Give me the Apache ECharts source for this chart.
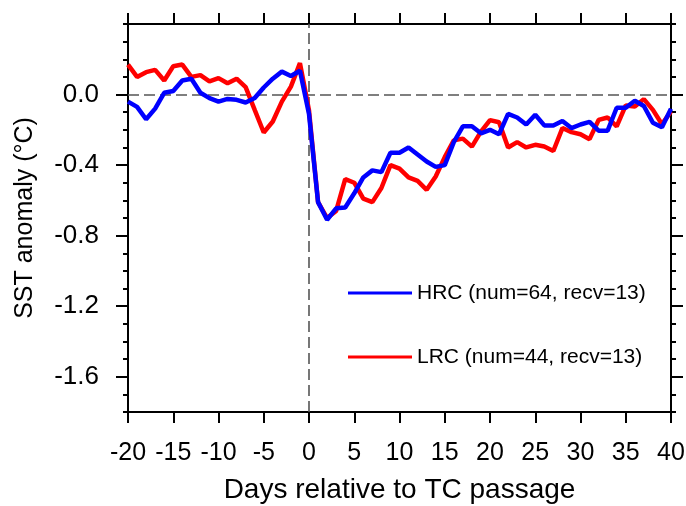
<!DOCTYPE html>
<html>
<head>
<meta charset="utf-8">
<script src="https://cdn.jsdelivr.net/npm/echarts@6/dist/echarts.min.js"></script>
<style>
  html, body { margin: 0; padding: 0; background: #fff; }
  #chart { width: 686px; height: 506px; }
</style>
</head>
<body>
<div id="chart"></div>
<script>
// days relative to TC passage
const days = [-20, -19, -18, -17, -16, -15, -14, -13, -12, -11,
  -10, -9, -8, -7, -6, -5, -4, -3, -2, -1,
  0, 1, 2, 3, 4, 5, 6, 7, 8, 9,
  10, 11, 12, 13, 14, 15, 16, 17, 18, 19,
  20, 21, 22, 23, 24, 25, 26, 27, 28, 29,
  30, 31, 32, 33, 34, 35, 36, 37, 38, 39, 40]

// SST anomaly, high rainfall cases (blue)
const hrc = [-0.04, -0.07, -0.14, -0.08, 0.01, 0.02, 0.08, 0.09, 0.01, -0.02,
  -0.04, -0.025, -0.03, -0.045, -0.02, 0.04, 0.09, 0.13, 0.105, 0.135,
  -0.11, -0.61, -0.71, -0.645, -0.64, -0.56, -0.47, -0.43, -0.44, -0.33,
  -0.33, -0.30, -0.34, -0.38, -0.41, -0.40, -0.27, -0.18, -0.18, -0.22,
  -0.20, -0.225, -0.11, -0.13, -0.17, -0.115, -0.175, -0.175, -0.15, -0.19,
  -0.17, -0.155, -0.205, -0.205, -0.075, -0.075, -0.035, -0.065, -0.16, -0.185, -0.08]

// SST anomaly, low rainfall cases (red)
const lrc = [0.17, 0.10, 0.127, 0.14, 0.08, 0.16, 0.17, 0.10, 0.11, 0.075,
  0.093, 0.064, 0.09, 0.042, -0.087, -0.215, -0.153, -0.04, 0.045, 0.178,
  -0.09, -0.61, -0.70, -0.66, -0.48, -0.50, -0.59, -0.61, -0.53, -0.40,
  -0.42, -0.47, -0.49, -0.54, -0.465, -0.355, -0.26, -0.25, -0.295, -0.21,
  -0.145, -0.157, -0.30, -0.27, -0.30, -0.285, -0.295, -0.32, -0.19, -0.213,
  -0.225, -0.253, -0.144, -0.13, -0.181, -0.062, -0.068, -0.026, -0.087, -0.168, -0.096]

const seriesNames = ['HRC (num=64, recv=13)', 'LRC (num=44, recv=13)']
const yMajorTicks = [-1.6, -1.2, -0.8, -0.4, 0.0]

const font = 'Liberation Sans, Helvetica, Arial, sans-serif'
const black = '#000'

function ticks(length, extra) {
  return Object.assign({ show: true, inside: false, length: length, lineStyle: { color: black, width: 2 } }, extra)
}

function frameAxis(extra) {
  return Object.assign({
    type: 'value',
    splitLine: { show: false },
    axisLine: { show: true, onZero: false, lineStyle: { color: black, width: 2 } },
    axisTick: ticks(5),
    axisLabel: { show: false }
  }, extra)
}

const xRange = { min: -20, max: 40, interval: 5 }
const yRange = { min: -1.8, max: 0.4 }
const hiddenLine = { show: false, onZero: false }

const chart = echarts.init(document.getElementById('chart'), null, { renderer: 'canvas' })

chart.setOption({
  animation: false,
  backgroundColor: '#fff',
  textStyle: { fontFamily: font },
  grid: { left: 128, right: 15, top: 24, bottom: 94, containLabel: false, outerBoundsMode: 'none' },
  legend: {
    data: seriesNames,
    orient: 'vertical',
    left: 348,
    top: 281,
    padding: 0,
    icon: 'rect',
    itemWidth: 64,
    itemHeight: 3,
    itemGap: 40,
    selectedMode: false,
    textStyle: { fontSize: 21, color: black, fontFamily: font, lineHeight: 24 }
  },
  xAxis: [
    frameAxis(Object.assign({
      position: 'bottom',
      axisTick: ticks(11),
      axisLabel: {
        show: true, margin: 29, fontSize: 25, color: black, fontFamily: font,
        showMinLabel: true, showMaxLabel: true
      },
      name: 'Days relative to TC passage',
      nameLocation: 'middle',
      nameGap: 64,
      nameTextStyle: { fontSize: 28, color: black, fontFamily: font }
    }, xRange)),
    frameAxis(Object.assign({
      position: 'top',
      axisTick: ticks(11)
    }, xRange))
  ],
  yAxis: [
    frameAxis(Object.assign({
      position: 'left',
      interval: 0.1,
      axisTick: ticks(5),
      axisLabel: {
        show: true, margin: 29, fontSize: 26, color: black, fontFamily: font,
        customValues: yMajorTicks,
        formatter: v => v.toFixed(1)
      },
      name: 'SST anomaly (°C)',
      nameLocation: 'middle',
      nameRotate: 90,
      nameGap: 90,
      nameTextStyle: { fontSize: 25, color: black, fontFamily: font }
    }, yRange)),
    frameAxis(Object.assign({
      position: 'left',
      axisLine: hiddenLine,
      axisTick: ticks(12, { customValues: yMajorTicks })
    }, yRange)),
    frameAxis(Object.assign({
      position: 'right',
      interval: 0.1,
      axisTick: ticks(5)
    }, yRange)),
    frameAxis(Object.assign({
      position: 'right',
      axisLine: hiddenLine,
      axisTick: ticks(12, { customValues: yMajorTicks })
    }, yRange))
  ],
  series: [
    {
      name: seriesNames[1],
      type: 'line',
      xAxisIndex: 0,
      yAxisIndex: 0,
      symbol: 'none',
      color: '#ff0000',
      lineStyle: { color: '#ff0000', width: 4.5 },
      data: days.map((d, i) => [d, lrc[i]]),
      markLine: {
        silent: true,
        z: 1,
        symbol: 'none',
        label: { show: false },
        lineStyle: { color: '#555', width: 1.6, type: [11, 5] },
        data: [{ yAxis: 0 }, { xAxis: 0 }]
      }
    },
    {
      name: seriesNames[0],
      type: 'line',
      xAxisIndex: 0,
      yAxisIndex: 0,
      symbol: 'none',
      color: '#0000ff',
      lineStyle: { color: '#0000ff', width: 4.5 },
      data: days.map((d, i) => [d, hrc[i]])
    }
  ]
})
</script>
</body>
</html>
